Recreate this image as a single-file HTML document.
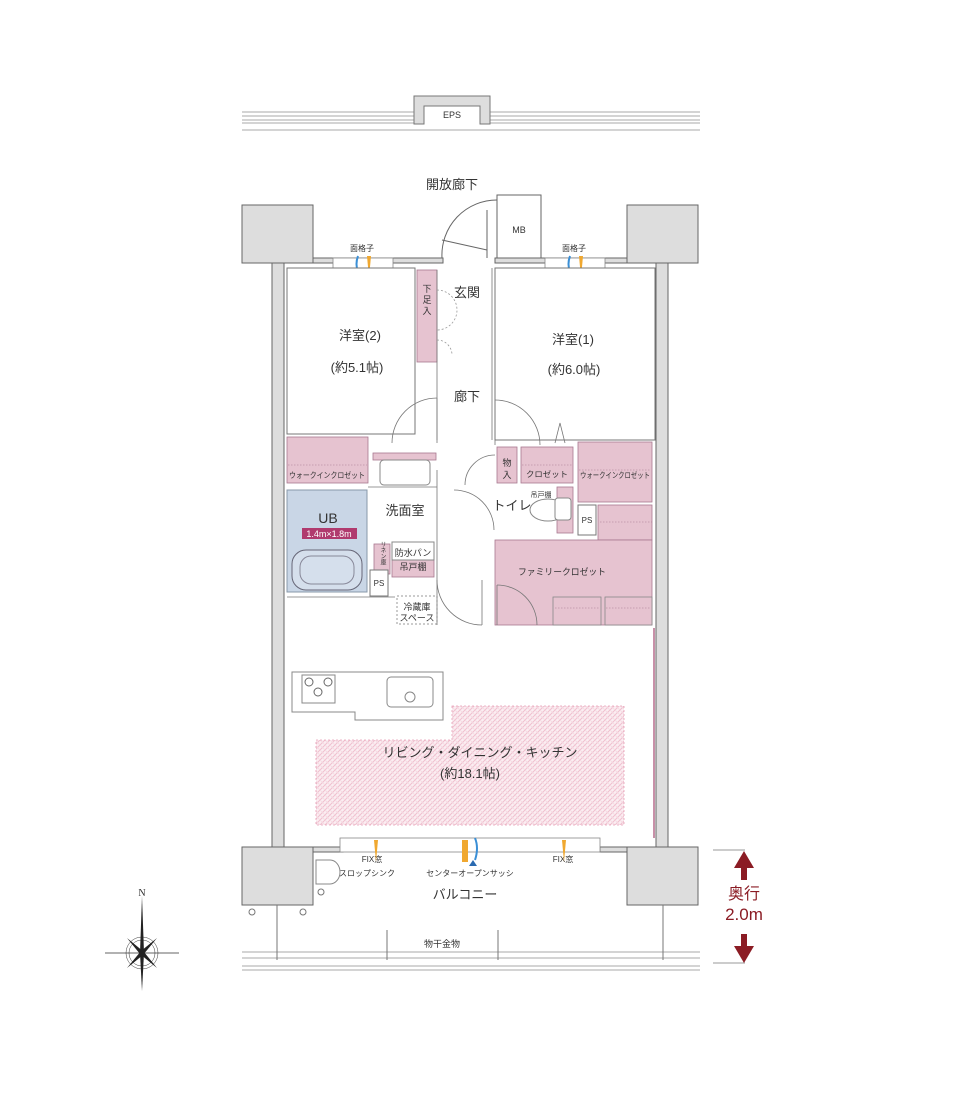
<!DOCTYPE html>
<html><head><meta charset="utf-8"><style>
html,body{margin:0;padding:0;background:#fff;}
svg{display:block;}
text{font-family:"Liberation Sans","Noto Sans CJK JP",sans-serif;fill:#333;}
</style></head><body>
<svg width="960" height="1120" viewBox="0 0 960 1120" xmlns="http://www.w3.org/2000/svg">
<defs>
<pattern id="hat" width="5" height="5" patternUnits="userSpaceOnUse">
<rect width="5" height="5" fill="#fbeef2"/>
<path d="M0 5L5 0M-1 1L1 -1M4 6L6 4" stroke="#f0c0cf" stroke-width="1"/>
<path d="M0 0L5 5" stroke="#f6d8e1" stroke-width="0.8"/>
</pattern>
</defs>
<g stroke="#aaa" stroke-width="1">
<line x1="242" y1="112" x2="415" y2="112"/><line x1="242" y1="116" x2="415" y2="116"/><line x1="242" y1="120" x2="415" y2="120"/><line x1="242" y1="123" x2="415" y2="123"/>
<line x1="490" y1="112" x2="700" y2="112"/><line x1="490" y1="116" x2="700" y2="116"/><line x1="490" y1="120" x2="700" y2="120"/><line x1="490" y1="123" x2="700" y2="123"/>
<line x1="242" y1="130" x2="700" y2="130"/>
</g>
<path d="M414 96H490V124H480V106H424V124H414Z" fill="#ddd" stroke="#777" stroke-width="1"/>
<text x="452" y="118" font-size="9" text-anchor="middle">EPS</text>
<text x="452" y="189" font-size="13" text-anchor="middle">開放廊下</text>

<g fill="#ddd" stroke="#666" stroke-width="1">
<rect x="242" y="205" width="71" height="58"/>
<rect x="627" y="205" width="71" height="58"/>
<rect x="242" y="847" width="71" height="58"/>
<rect x="627" y="847" width="71" height="58"/>
<rect x="272" y="263" width="12" height="584"/>
<rect x="656" y="263" width="12" height="584"/>
<rect x="313" y="258" width="130" height="5"/>
<rect x="495" y="258" width="132" height="5"/>
<rect x="313" y="847" width="30" height="5"/>
<rect x="600" y="847" width="27" height="5"/>
</g>
<g fill="#fff" stroke="#888" stroke-width="0.8">
<rect x="333" y="258" width="60" height="12"/>
<rect x="545" y="258" width="60" height="12"/>
<rect x="340" y="838" width="260" height="14"/>
</g>
<text x="362" y="251" font-size="8" text-anchor="middle">面格子</text>
<text x="574" y="251" font-size="8" text-anchor="middle">面格子</text>
<path d="M358 256q-3 8 0 16" stroke="#3a8fd6" stroke-width="2" fill="none"/>
<path d="M367 256l4 0-2 22z" fill="#f0a830"/>
<path d="M570 256q-3 8 0 16" stroke="#3a8fd6" stroke-width="2" fill="none"/>
<path d="M579 256l4 0-2 22z" fill="#f0a830"/>

<rect x="497" y="195" width="44" height="63" fill="#fff" stroke="#666"/>
<text x="519" y="233" font-size="9" text-anchor="middle">MB</text>
<path d="M442 258A55 55 0 0 1 497 200" stroke="#666" fill="none"/>
<line x1="442" y1="240" x2="487" y2="250" stroke="#666"/>
<line x1="487" y1="210" x2="487" y2="258" stroke="#666"/>

<g fill="#fff" stroke="#777" stroke-width="1">
<rect x="287" y="268" width="128" height="166"/>
<rect x="495" y="268" width="160" height="172"/>
</g>
<g fill="#e6c3d0" stroke="#a87890" stroke-width="0.8">
<rect x="417" y="270" width="20" height="92"/>
<rect x="287" y="437" width="81" height="46"/>
<rect x="373" y="453" width="63" height="7"/>
<rect x="497" y="447" width="20" height="36"/>
<rect x="521" y="447" width="52" height="36"/>
<rect x="578" y="442" width="74" height="60"/>
<rect x="557" y="487" width="16" height="46"/>
<rect x="598" y="505" width="54" height="35"/>
<rect x="495" y="540" width="157" height="85"/>
<rect x="374" y="544" width="16" height="30"/>
<rect x="392" y="560" width="42" height="17"/>
</g>
<rect x="578" y="505" width="18" height="30" fill="#fff" stroke="#777"/>
<text x="587" y="523" font-size="8" text-anchor="middle">PS</text>
<rect x="370" y="570" width="18" height="26" fill="#fff" stroke="#777"/>
<text x="379" y="586" font-size="8" text-anchor="middle">PS</text>
<rect x="392" y="542" width="42" height="18" fill="#fff" stroke="#888"/>
<rect x="397" y="596" width="40" height="28" fill="#fff" stroke="#999" stroke-dasharray="2,2"/>
<rect x="380" y="460" width="50" height="25" rx="4" fill="#fff" stroke="#888"/>
<rect x="287" y="490" width="80" height="102" fill="#c9d6e6" stroke="#8898aa"/>
<rect x="292" y="550" width="70" height="40" rx="14" fill="#d5dfec" stroke="#667"/>
<rect x="300" y="556" width="54" height="28" rx="11" fill="none" stroke="#889"/>
<text x="328" y="523" font-size="14" text-anchor="middle">UB</text>
<rect x="302" y="528" width="55" height="11" fill="#b03a6e"/>
<text x="329" y="537" font-size="9" text-anchor="middle" style="fill:#fff">1.4m×1.8m</text>
<ellipse cx="548" cy="510" rx="18" ry="11" fill="#fff" stroke="#888"/>
<rect x="555" y="498" width="16" height="22" rx="3" fill="#fff" stroke="#888"/>

<g stroke="#777" fill="none" stroke-width="0.8">
<path d="M437 398A45 45 0 0 0 392 443"/><line x1="437" y1="398" x2="437" y2="443"/>
<path d="M495 400A45 45 0 0 1 540 445"/><line x1="495" y1="400" x2="495" y2="445"/>
<path d="M495 455A30 30 0 0 0 465 485"/>
<path d="M454 490A40 40 0 0 1 494 530"/>
<path d="M437 580A45 45 0 0 0 482 625"/><line x1="482" y1="580" x2="482" y2="625"/>
<path d="M497 585A40 40 0 0 1 537 625"/><line x1="497" y1="585" x2="497" y2="625"/>
<path d="M555 443l5-20 5 20"/>
<line x1="437" y1="270" x2="437" y2="440"/>
<line x1="437" y1="470" x2="437" y2="625"/>
<line x1="492" y1="268" x2="492" y2="440"/>
<line x1="368" y1="487" x2="437" y2="487"/>
<line x1="287" y1="597" x2="395" y2="597"/>
</g>
<g stroke="#999" fill="none" stroke-width="0.8" stroke-dasharray="2,2">
<path d="M437 290A20 20 0 0 1 457 310A20 20 0 0 1 437 330"/>
<path d="M437 340A15 15 0 0 1 452 355"/>
</g>
<g stroke="#a87890" stroke-width="0.6" stroke-dasharray="1.5,1.5">
<line x1="600" y1="522" x2="652" y2="522"/>
<line x1="288" y1="465" x2="367" y2="465"/>
<line x1="579" y1="470" x2="651" y2="470"/>
<line x1="522" y1="465" x2="572" y2="465"/>
</g>
<g stroke="#888" fill="#e6c3d0" stroke-width="0.8">
<rect x="553" y="597" width="48" height="28"/>
<rect x="605" y="597" width="47" height="28"/>
</g>
<g stroke="#a87890" stroke-width="0.6" stroke-dasharray="1.5,1.5">
<line x1="555" y1="608" x2="600" y2="608"/><line x1="606" y1="608" x2="651" y2="608"/>
</g>
<line x1="654" y1="628" x2="654" y2="838" stroke="#c890a8" stroke-width="2"/>

<path d="M292 672H443V720H355V712H292Z" fill="#fff" stroke="#888"/>
<rect x="302" y="675" width="33" height="28" fill="#fff" stroke="#888"/>
<g fill="none" stroke="#666"><circle cx="309" cy="682" r="4"/><circle cx="328" cy="682" r="4"/><circle cx="318" cy="692" r="4"/></g>
<rect x="387" y="677" width="46" height="30" rx="4" fill="#fff" stroke="#888"/>
<circle cx="410" cy="697" r="5" fill="none" stroke="#888"/>

<path d="M452 706H624V825H316V740H452Z" fill="url(#hat)" stroke="#e6a0b6" stroke-dasharray="2,2" stroke-width="0.8"/>

<path d="M316 860h14a10 12 0 0 1 0 24h-14z" fill="#fff" stroke="#888"/>

<g font-size="13" text-anchor="middle">
<text x="360" y="340">洋室(2)</text>
<text x="357" y="372">(約5.1帖)</text>
<text x="573" y="344">洋室(1)</text>
<text x="574" y="374">(約6.0帖)</text>
<text x="467" y="297">玄関</text>
<text x="467" y="401">廊下</text>
<text x="405" y="515">洗面室</text>
<text x="512" y="510">トイレ</text>
<text x="480" y="757">リビング・ダイニング・キッチン</text>
<text x="470" y="778">(約18.1帖)</text>
<text x="465" y="899">バルコニー</text>
</g>
<g font-size="8" text-anchor="middle">
<text x="327" y="478" textLength="76" lengthAdjust="spacingAndGlyphs">ウォークインクロゼット</text>
<text x="547" y="477" textLength="42" lengthAdjust="spacingAndGlyphs">クロゼット</text>
<text x="615" y="478" textLength="70" lengthAdjust="spacingAndGlyphs">ウォークインクロゼット</text>
<text x="507" y="466" font-size="9">物</text><text x="507" y="478" font-size="9">入</text>
<text x="427" y="292" font-size="9">下</text><text x="427" y="303" font-size="9">足</text><text x="427" y="314" font-size="9">入</text>
<text x="562" y="575" font-size="9" textLength="88" lengthAdjust="spacingAndGlyphs">ファミリークロゼット</text>
<text x="413" y="556" font-size="9">防水パン</text>
<text x="413" y="570" font-size="9">吊戸棚</text>
<text x="417" y="610" font-size="9">冷蔵庫</text>
<text x="417" y="621" font-size="9">スペース</text>
<text x="372" y="862">FIX窓</text>
<text x="563" y="862">FIX窓</text>
<text x="470" y="876">センターオープンサッシ</text>
<text x="339" y="876" text-anchor="start">スロップシンク</text>
<text x="442" y="947" font-size="9">物干金物</text>
<text x="541" y="497" font-size="7">吊戸棚</text>
<text x="382" y="553" font-size="6" style="writing-mode:vertical-rl">リネン庫</text>
</g>
<path d="M374 840l4 0-2 22z" fill="#f0a830"/>
<path d="M562 840l4 0-2 22z" fill="#f0a830"/>
<path d="M462 840l6 0 0 22-6 0z" fill="#f0a830"/>
<path d="M475 838q4 10 0 22" stroke="#3a8fd6" stroke-width="2" fill="none"/>
<path d="M469 866l4-6 4 6z" fill="#2a6ab0"/>
<g stroke="#aaa" stroke-width="1">
<line x1="242" y1="952" x2="700" y2="952"/><line x1="242" y1="958" x2="700" y2="958"/>
<line x1="242" y1="966" x2="700" y2="966"/><line x1="242" y1="970" x2="700" y2="970"/>
</g>
<g stroke="#777" stroke-width="1">
<line x1="277" y1="905" x2="277" y2="960"/><line x1="387" y1="930" x2="387" y2="960"/><line x1="498" y1="930" x2="498" y2="960"/><line x1="663" y1="905" x2="663" y2="960"/>
</g>
<g fill="#fff" stroke="#777"><circle cx="252" cy="912" r="3"/><circle cx="303" cy="912" r="3"/><circle cx="321" cy="892" r="3"/></g>

<g stroke="#999"><line x1="713" y1="850" x2="745" y2="850"/><line x1="713" y1="963" x2="745" y2="963"/></g>
<path d="M744 851L734 868H741V880H747V868H754Z" fill="#8b1c24"/>
<path d="M744 963L734 946H741V934H747V946H754Z" fill="#8b1c24"/>
<text x="744" y="899" font-size="16" text-anchor="middle" style="fill:#8b1c24">奥行</text>
<text x="744" y="920" font-size="17" text-anchor="middle" style="fill:#8b1c24">2.0m</text>

<g transform="translate(142,953)">
<circle r="16" fill="none" stroke="#333" stroke-width="0.5"/>
<circle r="13" fill="none" stroke="#333" stroke-width="0.5"/>
<line x1="-37" y1="0" x2="37" y2="0" stroke="#333" stroke-width="0.8"/>
<path d="M0 -57L2 0L0 38L-2 0Z" fill="#222"/>
<path d="M-15 -15L2 -1L15 15L-2 1Z" fill="#222"/>
<path d="M15 -15L1 2L-15 15L-1 -2Z" fill="#222"/>
</g>
<text x="142" y="896" font-size="10" text-anchor="middle" style="font-family:'Liberation Serif',serif">N</text>
</svg>
</body></html>
